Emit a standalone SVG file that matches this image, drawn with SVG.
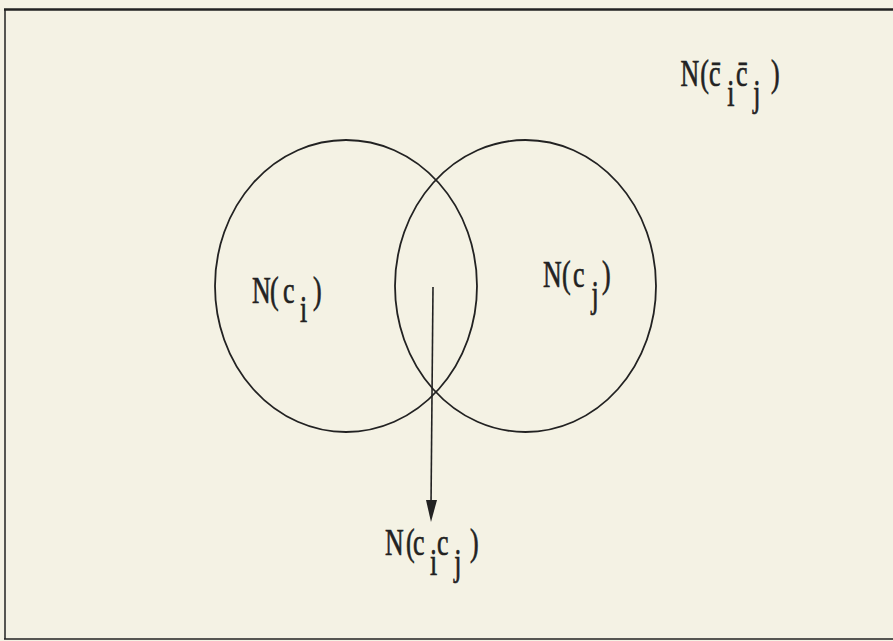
<svg xmlns="http://www.w3.org/2000/svg" width="893" height="641" viewBox="0 0 893 641">
<style>
.ln{stroke:#222;fill:none}
.lbl{font-family:"Liberation Serif","Times New Roman",serif;font-size:37px;fill:#222;stroke:#222;stroke-width:0.7px}
</style>
<rect x="0" y="0" width="893" height="641" fill="#f4f2e4"/>
<g id="frame">
<line class="ln" x1="4" y1="9.5" x2="893" y2="9.5" stroke-width="2.5"/>
<line class="ln" x1="5" y1="9" x2="5" y2="639" stroke-width="1.5"/>
<line class="ln" x1="4" y1="639" x2="893" y2="639" stroke-width="1.5"/>
</g>
<g id="set-ci">
<ellipse class="ln" cx="346" cy="286" rx="131" ry="146" stroke-width="1.8"/>
<text class="lbl" transform="scale(0.7,1)"><tspan x="360" y="303">N</tspan><tspan x="385.7" y="303">(</tspan><tspan x="404.3" y="303">c</tspan><tspan x="428.6" y="322">i</tspan><tspan x="447.1" y="303">)</tspan></text>
</g>
<g id="set-cj">
<ellipse class="ln" cx="525.5" cy="286" rx="130.5" ry="146" stroke-width="1.8"/>
<text class="lbl" transform="scale(0.7,1)"><tspan x="775.7" y="287">N</tspan><tspan x="802.9" y="287">(</tspan><tspan x="818.6" y="287">c</tspan><tspan x="845" y="307">j</tspan><tspan x="860" y="287">)</tspan></text>
</g>
<g id="complement">
<text class="lbl" transform="scale(0.7,1)"><tspan x="972" y="86">N</tspan><tspan x="1000.5" y="86">(</tspan><tspan x="1013" y="86">c&#x304;</tspan><tspan x="1039" y="106">i</tspan><tspan x="1051.5" y="86">c&#x304;</tspan><tspan x="1076" y="106">j</tspan><tspan x="1101.4" y="86">)</tspan></text>
</g>
<g id="intersection">
<text class="lbl" transform="scale(0.7,1)"><tspan x="550" y="555">N</tspan><tspan x="580" y="555">(</tspan><tspan x="590" y="555">c</tspan><tspan x="614.3" y="575">i</tspan><tspan x="624.3" y="555">c</tspan><tspan x="649" y="575">j</tspan><tspan x="671.4" y="555">)</tspan></text>
</g>
<g id="connectors">
<line class="ln" x1="433" y1="287" x2="431" y2="505" stroke-width="1.6"/>
<polygon points="426,500 437,500 431,522" fill="#222"/>
</g>
</svg>
